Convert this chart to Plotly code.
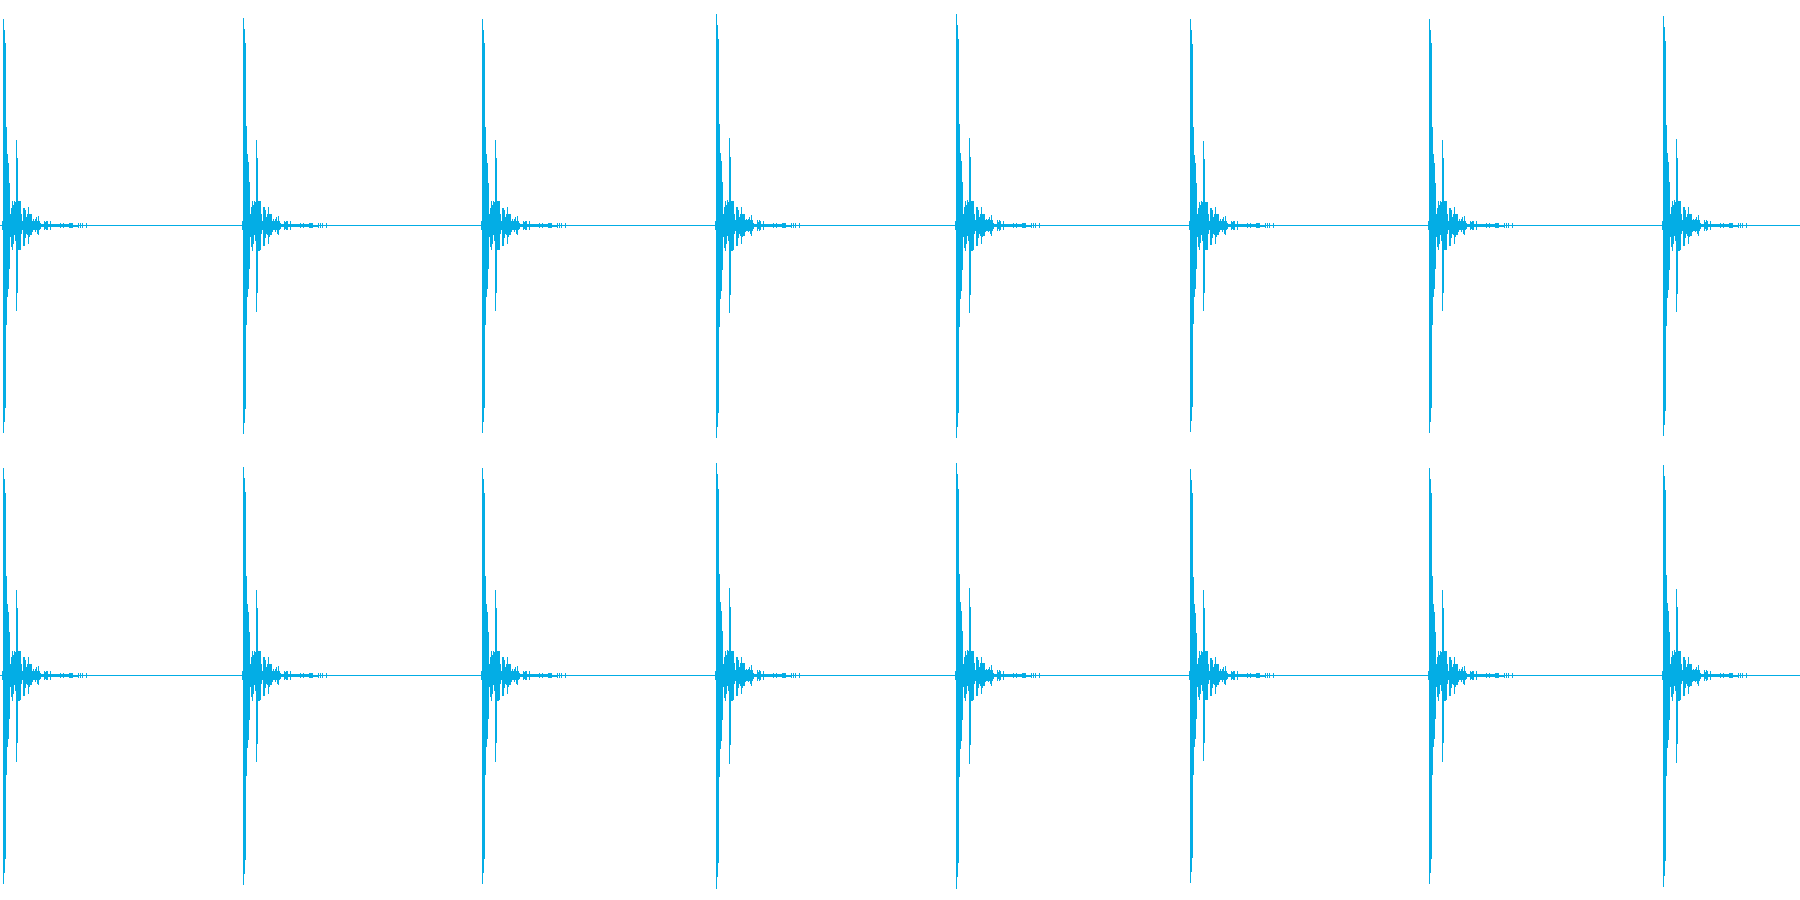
import plotly.graph_objects as go
from plotly.subplots import make_subplots

# ---- data (overview columns of a stereo waveform) ----
# envelope of one click: per overview column, offsets -1 .. 83 from the main transient
ENV_OFFSETS = list(range(-1, 84))
ENV_MAX = [0.02, 0.920, 0.871, 0.809, 0.440, 0.316, 0.280, 0.191, 0.050, 0.080,
           0.107, 0.090, 0.110, 0.104, 0.378, 0.298, 0.107, 0.107, 0.107, 0.052,
           0.022, 0.080, 0.080, 0.067, 0.037, 0.052, 0.081, 0.052, 0.052, 0.052,
           0.022, 0.030, 0.022, 0.030, 0.037, 0.022, 0.044, 0.022, 0.010, 0.008,
           0.008, 0.008, 0.022, 0.015, 0.022, 0.018, 0.008, 0.008, 0.020, 0.006,
           0.006, 0.006, 0.006, 0.006, 0.006, 0.006, 0.006, 0.006, 0.012, 0.006,
           0.006, 0.012, 0.006, 0.006, 0.006, 0.006, 0.006, 0.012, 0.012, 0.012,
           0.012, 0.004, 0.004, 0.004, 0.004, 0.004, 0.010, 0.000, 0.010, 0.000,
           0.010, 0.000, 0.000, 0.000, 0.010]
ENV_MIN = [-0.02, -0.923, -0.874, -0.812, -0.441, -0.318, -0.283, -0.194, -0.050, -0.096,
           -0.111, -0.080, -0.044, -0.067, -0.381, -0.300, -0.111, -0.111, -0.108, -0.037,
           -0.022, -0.089, -0.089, -0.055, -0.037, -0.044, -0.081, -0.052, -0.044, -0.044,
           -0.030, -0.022, -0.022, -0.030, -0.022, -0.037, -0.044, -0.022, -0.015, -0.008,
           -0.008, -0.008, -0.022, -0.015, -0.022, -0.018, -0.008, -0.008, -0.020, -0.006,
           -0.006, -0.006, -0.006, -0.006, -0.006, -0.006, -0.006, -0.006, -0.012, -0.006,
           -0.006, -0.012, -0.006, -0.006, -0.006, -0.006, -0.006, -0.012, -0.012, -0.012,
           -0.012, -0.004, -0.004, -0.004, -0.004, -0.004, -0.010, 0.000, -0.010, 0.000,
           -0.010, 0.000, 0.000, 0.000, -0.010]
ENV_PEAK = 0.920

# click onsets (overview column of main transient) and peak amplitude per click
ONSETS = [3, 243, 482, 716, 956, 1190, 1429, 1663]
PEAKS_L = [0.920, 0.924, 0.920, 0.942, 0.942, 0.916, 0.920, 0.933]
PEAKS_R = [0.923, 0.928, 0.923, 0.945, 0.945, 0.920, 0.923, 0.936]

N_COLUMNS = 1800
WAVE_COLOR = "#03ADE5"


def channel_columns(peaks):
    xs, bases, heights = [], [], []
    for onset, pk in zip(ONSETS, peaks):
        s = pk / ENV_PEAK
        for off, mx, mn in zip(ENV_OFFSETS, ENV_MAX, ENV_MIN):
            if mx == 0 and mn == 0:
                continue
            xs.append(onset + off)
            bases.append(mn * s)
            heights.append((mx - mn) * s)
    return xs, bases, heights


fig = make_subplots(rows=2, cols=1, shared_xaxes=True, vertical_spacing=0)

for row, peaks in ((1, PEAKS_L), (2, PEAKS_R)):
    fig.add_trace(go.Scatter(x=[-0.5, N_COLUMNS - 0.5], y=[0, 0], mode="lines",
                             line=dict(color=WAVE_COLOR, width=1),
                             hoverinfo="skip", showlegend=False), row=row, col=1)
    xs, bases, heights = channel_columns(peaks)
    fig.add_trace(go.Bar(x=xs, y=heights, base=bases, width=1,
                         marker=dict(color=WAVE_COLOR, line=dict(width=0)),
                         hoverinfo="skip", showlegend=False), row=row, col=1)

yr = [-0.99778, 1.00222]
for r in (1, 2):
    fig.update_xaxes(range=[-0.5, N_COLUMNS - 0.5], visible=False, row=r, col=1)
    fig.update_yaxes(range=yr, visible=False, row=r, col=1)

fig.update_layout(width=1800, height=900, margin=dict(l=0, r=0, t=0, b=0),
                  paper_bgcolor="white", plot_bgcolor="white", bargap=0,
                  showlegend=False)

fig.write_html("out.html", config={"displayModeBar": False},
               post_script="document.body.style.margin='0';document.body.style.overflow='hidden';")
